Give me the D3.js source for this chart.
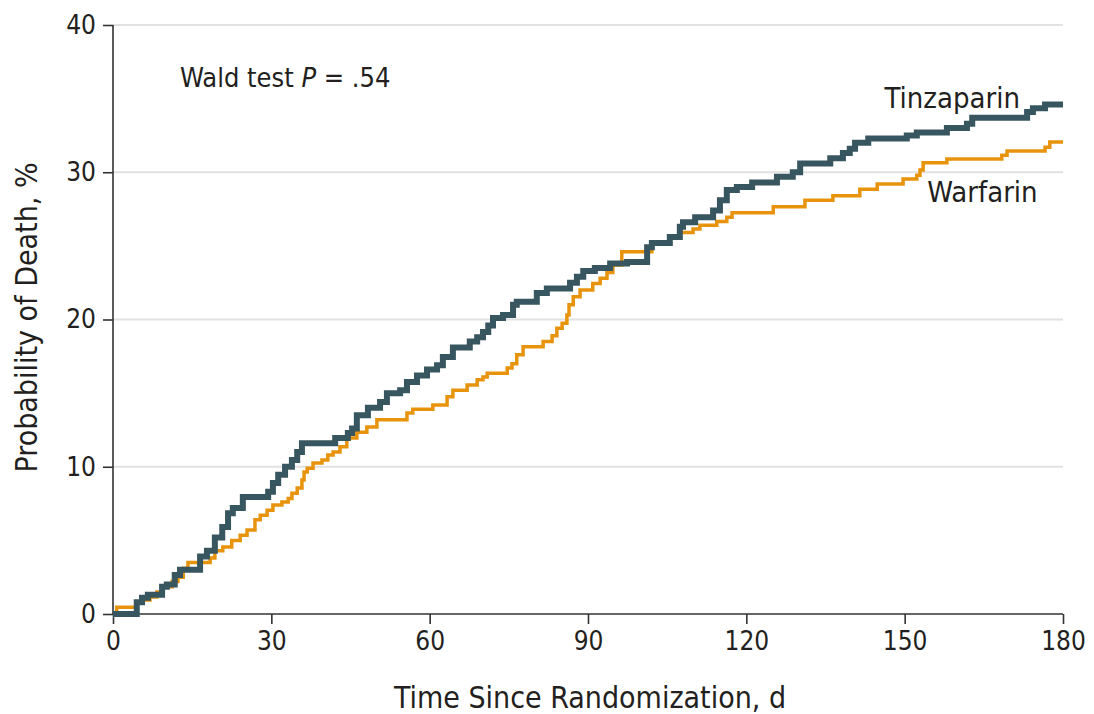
<!DOCTYPE html>
<html>
<head>
<meta charset="utf-8">
<script src="https://cdn.jsdelivr.net/npm/d3@7"></script>
<style>
  body { margin: 0; background: #fff; }
  svg text { font-family: "Liberation Sans Narrow", "DejaVu Sans Condensed", sans-serif; fill: #231f20; }
</style>
</head>
<body>
<svg width="1094" height="714"></svg>
<script>
// Kaplan-Meier style cumulative death probability, [day, percent] at each step
const tinzaparin = [
  [0, 0], [4.5, 0.8], [5.5, 1.1], [6.6, 1.3], [9.3, 1.85], [10.2, 2.0], [11.7, 2.65],
  [12.7, 3.0], [16.5, 3.9], [17.8, 4.3], [19.3, 5.2], [20.7, 5.9], [21.8, 6.85],
  [22.7, 7.2], [24.6, 7.95], [29.4, 8.3], [30.3, 8.9], [31.3, 9.45], [32.6, 10.0],
  [33.9, 10.45], [34.9, 11.0], [35.8, 11.6], [42.1, 11.95], [44.5, 12.3], [45.3, 12.6],
  [46.2, 13.5], [48.3, 14.0], [50.6, 14.4], [51.9, 15.0], [54.4, 15.2], [55.7, 15.75],
  [57.6, 16.2], [59.5, 16.6], [61.4, 16.9], [62.5, 17.45], [64.4, 18.1], [67.6, 18.5],
  [69.0, 18.8], [70.1, 19.15], [71.1, 19.6], [72.0, 20.1], [73.9, 20.3], [75.8, 21.0],
  [76.5, 21.2], [80.3, 21.8], [82.2, 22.1], [86.6, 22.5], [87.9, 22.9], [89.1, 23.3],
  [91.3, 23.5], [94.2, 23.8], [97.4, 23.9], [101.2, 24.9], [102.1, 25.2], [105.5, 25.6],
  [107.4, 26.3], [108.0, 26.6], [110.3, 26.95], [113.7, 27.4], [115.0, 28.1],
  [116.3, 28.8], [118.2, 29.0], [121.1, 29.3], [125.8, 29.7], [128.8, 30.0],
  [130.2, 30.6], [135.9, 30.95], [138.3, 31.3], [139.6, 31.6], [140.6, 32.0],
  [143.1, 32.3], [150.4, 32.5], [152.3, 32.7], [158.0, 33.0], [161.8, 33.3],
  [162.8, 33.7], [173.2, 34.1], [174.3, 34.35], [176.6, 34.6], [180, 34.6]
];

const warfarin = [
  [0, 0], [0.7, 0.45], [4.5, 0.75], [5.7, 0.95], [7.0, 1.15], [8.3, 1.5], [9.5, 1.85],
  [11.2, 2.2], [12.3, 2.5], [13.3, 3.1], [14.2, 3.5], [18.4, 3.8], [19.3, 4.3],
  [20.8, 4.55], [22.5, 5.0], [24.1, 5.35], [25.4, 5.7], [26.9, 6.4], [27.9, 6.7],
  [29.2, 7.05], [30.3, 7.4], [32.0, 7.6], [33.2, 7.85], [33.9, 8.2], [34.9, 8.55],
  [35.8, 9.1], [36.2, 9.65], [36.8, 9.9], [37.9, 10.25], [39.6, 10.45], [40.7, 10.8],
  [41.7, 11.0], [43.0, 11.35], [44.3, 11.95], [46.2, 12.35], [48.1, 12.7], [50.0, 13.2],
  [55.7, 13.65], [56.8, 13.9], [60.6, 14.2], [63.3, 14.75], [64.4, 15.2], [67.1, 15.55],
  [69.0, 15.9], [70.1, 16.1], [70.9, 16.35], [74.7, 16.7], [75.6, 17.0], [76.5, 17.6],
  [77.7, 18.15], [81.5, 18.5], [83.2, 18.9], [84.1, 19.4], [85.1, 19.75], [86.0, 20.3],
  [86.4, 21.0], [87.2, 21.55], [88.5, 22.0], [90.9, 22.45], [92.3, 22.8], [93.6, 23.2],
  [94.7, 23.7], [96.4, 24.6], [102.1, 25.25], [105.5, 25.6], [107.4, 25.9],
  [109.9, 26.15], [111.2, 26.4], [114.4, 26.65], [116.3, 26.95], [117.3, 27.25],
  [125.1, 27.65], [131.1, 28.1], [136.4, 28.4], [141.5, 28.85], [144.8, 29.2],
  [149.7, 29.55], [152.3, 29.8], [152.9, 30.15], [153.5, 30.65], [158.0, 30.9],
  [168.4, 31.15], [169.4, 31.45], [176.6, 31.7], [177.5, 32.05], [180, 32.05]
];

const xTicks = [0, 30, 60, 90, 120, 150, 180];
const yTicks = [0, 10, 20, 30, 40];

const svg = d3.select("svg");
const margin = { left: 113, right: 31, top: 25, bottom: 100 };
const width = 1094 - margin.left - margin.right;
const height = 714 - margin.top - margin.bottom;

const g = svg.append("g").attr("transform", `translate(${margin.left},${margin.top})`);

const x = d3.scaleLinear().domain([0, 180]).range([0, width]);
const y = d3.scaleLinear().domain([0, 40]).range([height, 0]);

// Gridlines
g.append("g")
  .selectAll("line")
  .data(yTicks.filter(t => t > 0))
  .enter()
  .append("line")
  .attr("x1", 0)
  .attr("x2", width)
  .attr("y1", d => y(d))
  .attr("y2", d => y(d))
  .attr("stroke", "#e1e1e1")
  .attr("stroke-width", 2);

// Axes
const xAxis = g.append("g")
  .attr("transform", `translate(0,${height})`)
  .call(d3.axisBottom(x).tickValues(xTicks).tickSize(10).tickPadding(8));

const yAxis = g.append("g")
  .call(d3.axisLeft(y).tickValues(yTicks).tickSize(10).tickPadding(7));

[xAxis, yAxis].forEach(a => {
  a.select(".domain").attr("stroke", "#333").attr("stroke-width", 1.6);
  a.selectAll(".tick line").attr("stroke", "#333").attr("stroke-width", 1.6);
  a.selectAll(".tick text").style("font-size", "26px").attr("fill", "#231f20");
});
xAxis.select(".domain").attr("d", `M0,0H${width}`);
yAxis.select(".domain").attr("d", `M0,${height}V0`);

// Step lines
const line = d3.line()
  .x(d => x(d[0]))
  .y(d => y(d[1]))
  .curve(d3.curveStepAfter);

g.append("path")
  .datum(warfarin)
  .attr("fill", "none")
  .attr("stroke", "#e8930c")
  .attr("stroke-width", 3.5)
  .attr("d", line);

g.append("path")
  .datum(tinzaparin)
  .attr("fill", "none")
  .attr("stroke", "#37565f")
  .attr("stroke-width", 6)
  .attr("d", line);

// Series labels
g.append("text")
  .attr("x", x(180) - 43)
  .attr("y", y(34.6) + 3)
  .attr("text-anchor", "end")
  .style("font-size", "29px")
  .text("Tinzaparin");

g.append("text")
  .attr("x", x(175.2))
  .attr("y", y(28.1) + 2)
  .attr("text-anchor", "end")
  .style("font-size", "29px")
  .text("Warfarin");

// Annotation
const wald = g.append("text")
  .attr("x", 67)
  .attr("y", 62)
  .style("font-size", "27px");
wald.append("tspan").text("Wald test ");
wald.append("tspan").style("font-style", "italic").text("P");
wald.append("tspan").text(" = .54");

// Axis titles
svg.append("text")
  .attr("x", margin.left + width / 2 + 2)
  .attr("y", 708)
  .attr("text-anchor", "middle")
  .style("font-size", "30px")
  .text("Time Since Randomization, d");

svg.append("text")
  .attr("transform", `translate(37,${margin.top + y(20) - 2}) rotate(-90)`)
  .attr("text-anchor", "middle")
  .style("font-size", "30px")
  .text("Probability of Death, %");
</script>
</body>
</html>
